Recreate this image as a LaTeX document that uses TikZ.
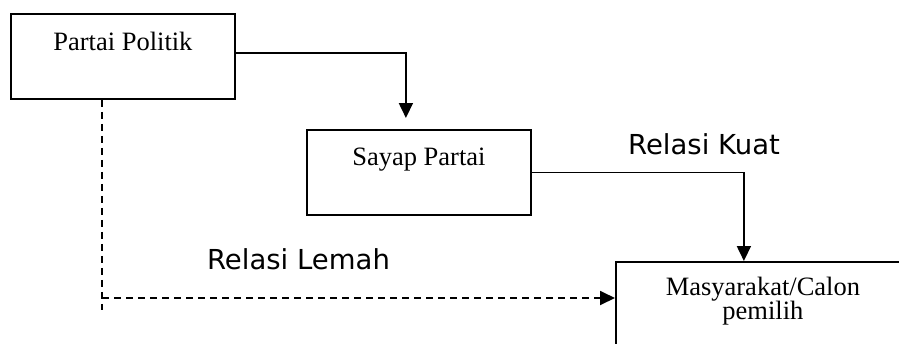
\documentclass[tikz,border=0pt]{standalone}
\usepackage{fontspec}
\setmainfont{Liberation Serif}
\newfontfamily\labelfont{DejaVu Sans}
\usetikzlibrary{arrows.meta}
\tikzset{
  box/.style={draw, line width=1.8pt, rectangle, inner sep=0pt},
  serif/.style={font=\fontsize{26.5}{24}\selectfont, inner sep=0pt},
  lbl/.style={font=\labelfont\fontsize{27.5}{30}\selectfont, inner sep=0pt},
  arr/.style={line width=1.8pt, -{Triangle[width=14pt,length=15pt]}},
  weak/.style={line width=1.8pt, dash pattern=on 7pt off 5pt},
}
\begin{document}
\begin{tikzpicture}[x=1pt, y=-1pt]
\useasboundingbox (0,0) rectangle (899,343);
\clip (0,0) rectangle (899,343);
\fill[white] (0,0) rectangle (899,343);
% boxes
\node[box, minimum width=224pt, minimum height=85pt, anchor=north west] (pp) at (10,13) {};
\node[serif, anchor=base] (pptext) at ([yshift=-37pt]pp.north) {Partai Politik};
\node[box, minimum width=224pt, minimum height=85pt, anchor=north west] (sp) at (306,129) {};
\node[serif, anchor=base] (sptext) at ([yshift=-36pt]sp.north) {Sayap Partai};
\node[box, minimum width=294pt, minimum height=150pt, anchor=north west] (mas) at (615,261) {};
\node[serif, anchor=base] (masA) at ([yshift=-34.5pt]mas.north) {Masyarakat/Calon};
\node[serif, anchor=base] (masB) at ([yshift=-58.5pt]mas.north) {pemilih};
% labels
\node[lbl, anchor=base] (kuat) at (704,154) {Relasi Kuat};
\node[lbl, anchor=base] (lemah) at (298.5,269) {Relasi Lemah};
% strong connectors
\draw[arr, shorten >=11pt] ([yshift=3.5pt]pp.east) -| ([xshift=-13pt]sp.north);
\draw[arr] (sp.east) -| ([xshift=-19pt]mas.north);
% weak connector
\coordinate (lemahcorner) at (102,298);
\coordinate (lemahend) at (102,310);
\draw[weak] ([xshift=92pt]pp.south west) -- (lemahend);
\draw[weak, arr] (lemahcorner) -- (mas.west |- lemahcorner);
\end{tikzpicture}
\end{document}
